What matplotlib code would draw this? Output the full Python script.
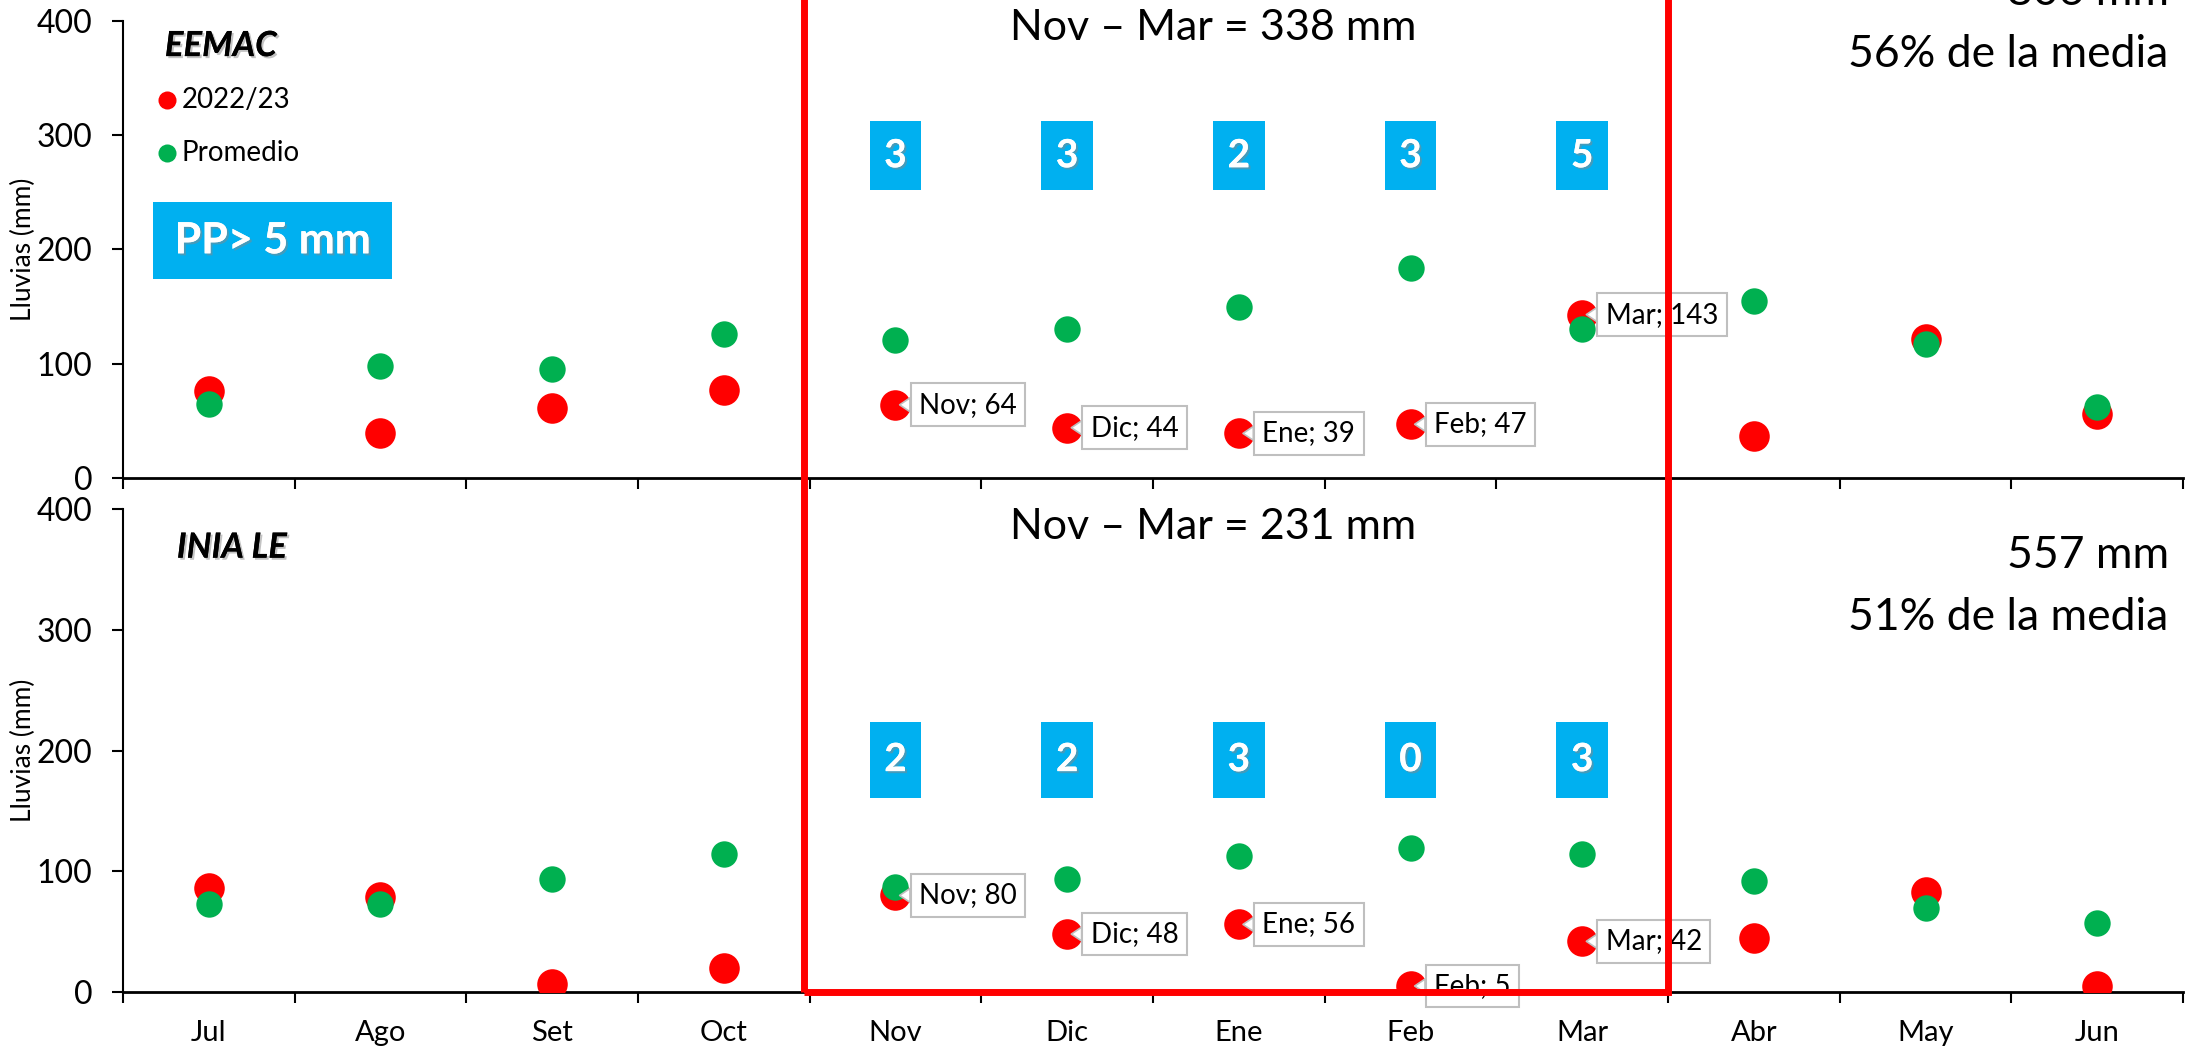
import matplotlib.pyplot as plt
import matplotlib.patheffects as pe
from matplotlib.patches import Rectangle
import numpy as np

plt.rcParams['font.family'] = ['Lato', 'DejaVu Sans']

# ─── Datos ────────────────────────────────────────────────────────────────────
months = ["Jul", "Ago", "Set", "Oct", "Nov", "Dic", "Ene", "Feb", "Mar", "Abr", "May", "Jun"]

eemac_2223 = [76, 39, 61, 77, 64, 44, 39, 47, 143, 37, 122, 56]
eemac_prom = [65, 98, 95, 126, 121, 130, 150, 184, 130, 155, 117, 62]
eemac_pp5 = [3, 3, 2, 3, 5]          # Nov..Mar, días con PP > 5 mm

inia_2223 = [86, 79, 7, 20, 80, 48, 56, 5, 42, 45, 83, 5]
inia_prom = [73, 73, 94, 114, 87, 94, 113, 119, 114, 92, 70, 57]
inia_pp5 = [2, 2, 3, 0, 3]

eemac_total = "806 mm"
eemac_pct = "56% de la media"
eemac_season = "Nov – Mar = 338 mm"
inia_total = "557 mm"
inia_pct = "51% de la media"
inia_season = "Nov – Mar = 231 mm"

RED = "#FF0000"
GREEN = "#00B050"
BLUE = "#00B0F0"
x = np.arange(len(months))
season = range(4, 9)   # Nov..Mar

shadow = [pe.withSimplePatchShadow(offset=(1.5, -1.5), shadow_rgbFace="#888888", alpha=0.5), pe.Normal()]

fig = plt.figure(figsize=(21.87, 10.47), dpi=100)
ax1 = fig.add_axes([0.0562, 0.5435, 0.942, 0.4365])
ax2 = fig.add_axes([0.0562, 0.0525, 0.942, 0.4613])


def base_axes(ax, show_labels):
    ax.set_xlim(-0.5, 11.5)
    ax.set_ylim(0, 400)
    ax.set_yticks([0, 100, 200, 300, 400])
    ax.set_xticks(x)
    ax.set_xticks(np.arange(-0.5, 12, 1), minor=True)
    ax.tick_params(axis="x", which="major", length=0, pad=20, labelsize=21)
    ax.tick_params(axis="x", which="minor", length=8, width=1.5, direction="out")
    ax.tick_params(axis="y", length=8, width=1.5, pad=14, labelsize=23)
    if show_labels:
        ax.set_xticklabels(months)
    else:
        ax.set_xticklabels([])
    for s in ["top", "right"]:
        ax.spines[s].set_visible(False)
    ax.spines["left"].set_linewidth(1.5)
    ax.spines["bottom"].set_linewidth(2)
    ax.set_ylabel("Lluvias (mm)", fontsize=19)
    ax.yaxis.set_label_coords(-0.042, 0.5)


def panel(ax, real, prom, pp5, total, pct, seas, name, y_name, y_seas, y_tot, y_pct, box_y):
    ax.plot(x, real, "o", color=RED, ms=22, mec="none", zorder=3)
    ax.plot(x, prom, "o", color=GREEN, ms=19, mec="none", zorder=4)

    for i in season:
        ax.annotate(f"{months[i]}; {real[i]}", xy=(x[i], real[i]), xytext=(17, 0),
                    textcoords="offset points", ha="left", va="center", fontsize=20,
                    bbox=dict(boxstyle="square,pad=0.3", fc="white", ec="#BFBFBF", lw=1.5),
                    arrowprops=dict(arrowstyle="wedge,tail_width=0.5", fc="white",
                                    ec="#BFBFBF", lw=1.2, shrinkA=0, shrinkB=3),
                    zorder=5)

    # cajas con número de días PP > 5 mm
    for k, i in enumerate(season):
        ax.add_patch(Rectangle((x[i] - 0.15, box_y[0]), 0.30, box_y[1] - box_y[0],
                               fc=BLUE, ec="none", zorder=2))
        ax.text(x[i], (box_y[0] + box_y[1]) / 2, str(pp5[k]), ha="center", va="center",
                fontsize=28, fontweight="bold", color="white", zorder=3, path_effects=shadow)

    ax.text(-0.256 if name == "EEMAC" else -0.186, y_name, name, ha="left", va="center",
            fontsize=25, fontweight="bold", style="italic", path_effects=shadow)
    ax.text(5.85, y_seas, seas, ha="center", va="center", fontsize=31)
    ax.text(0.993, y_tot, total, transform=ax.get_yaxis_transform(), ha="right",
            va="baseline", fontsize=32, clip_on=False)
    ax.text(0.993, y_pct, pct, transform=ax.get_yaxis_transform(), ha="right",
            va="baseline", fontsize=32)


base_axes(ax1, False)
base_axes(ax2, True)

panel(ax1, eemac_2223, eemac_prom, eemac_pp5, eemac_total, eemac_pct, eemac_season,
      "EEMAC", 378, 394, 414, 360, (252, 312))
panel(ax2, inia_2223, inia_prom, inia_pp5, inia_total, inia_pct, inia_season,
      "INIA LE", 368, 385, 351, 300, (161, 224))

# leyenda manual
ax1.plot(-0.244, 331, "o", color=RED, ms=13, mec="none", clip_on=False)
ax1.text(-0.16, 331, "2022/23", ha="left", va="center", fontsize=20)
ax1.plot(-0.244, 284, "o", color=GREEN, ms=13, mec="none", clip_on=False)
ax1.text(-0.16, 284, "Promedio", ha="left", va="center", fontsize=20)

# PP > 5 mm
ax1.add_patch(Rectangle((-0.326, 174), 1.396, 67.6, fc=BLUE, ec="none", zorder=2))
ax1.text(0.372, 208, "PP> 5 mm", ha="center", va="center", fontsize=31,
         fontweight="bold", color="white", zorder=3, path_effects=shadow)

# recuadro rojo Nov – Mar sobre ambos paneles
ax2.add_patch(Rectangle((3.47, 0), 5.03, 1000, fc="none", ec=RED, lw=5,
                        clip_on=False, zorder=10))

fig.savefig("out.png", dpi=100)
